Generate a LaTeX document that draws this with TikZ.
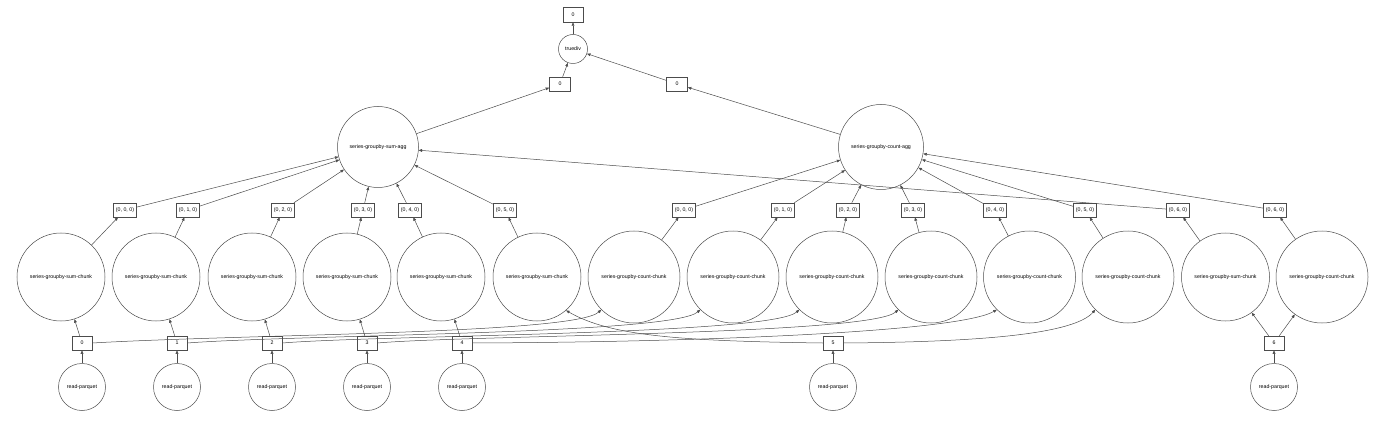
\documentclass[tikz,border=0pt]{standalone}
\usepackage{fontspec}
\setmainfont{Liberation Sans}
\usetikzlibrary{arrows.meta}
\begin{document}
\begin{tikzpicture}[x=1pt,y=-1pt,
  every node/.style={font=\fontsize{5.25}{6}\selectfont, inner sep=0pt, draw=black!70, line width=0.5pt},
  tbox/.style={rectangle, minimum width=23pt, minimum height=14pt},
  ibox/.style={rectangle, minimum width=20pt, minimum height=14pt},
  rp/.style={circle, minimum size=47pt},
  sch/.style={circle, minimum size=88pt},
  cch/.style={circle, minimum size=92pt},
  edge/.style={draw=black!70, line width=0.5pt, -{Triangle[length=3.5pt,width=2.8pt]}}
]
\useasboundingbox (0,0) rectangle (1400,422);
% top
\node[ibox, minimum height=15pt] (top) at (573,14.5) {0};
\node[circle, minimum size=29pt] (td) at (573,49) {truediv};
\node[ibox, minimum width=21pt] (s0) at (560,84) {0};
\node[ibox, minimum width=21pt] (c0) at (677,84) {0};
\node[circle, minimum size=81pt] (sagg) at (378,147) {series-groupby-sum-agg};
\node[circle, minimum size=85pt] (cagg) at (881,147) {series-groupby-count-agg};
% tuple boxes
\foreach \n/\x/\l in {ts0/125/0, ts1/188/1, ts2/283/2, ts3/363/3, ts4/410/4, ts5/505/5, ts6/1178/6,
                      tc0/684/0, tc1/783/1, tc2/848/2, tc3/913/3, tc4/995/4, tc5/1085/5, tc6/1275/6}
  \node[tbox] (\n) at (\x,210) {(0, \l, 0)};
% chunks
\foreach \n/\x in {sc0/61, sc1/156, sc2/252, sc3/347, sc4/441, sc5/537, sc6/1225.5}
  \node[sch] (\n) at (\x,277) {series-groupby-sum-chunk};
\foreach \n/\x in {cc0/634, cc1/733, cc2/832, cc3/931, cc4/1029.5, cc5/1128, cc6/1322}
  \node[cch] (\n) at (\x,277) {series-groupby-count-chunk};
% index boxes and read-parquet
\foreach \k/\x in {0/82, 1/177, 2/272, 3/367, 4/462, 5/833, 6/1274}{
  \node[ibox] (i\k) at (\x,343) {\k};
  \node[rp] (r\k) at (\x,387) {read-parquet};
  \draw[edge] (r\k) -- (i\k);
}
% straight edges
\foreach \a/\b in {i0/sc0, i1/sc1, i2/sc2, i3/sc3, i4/sc4, i6/sc6, i6/cc6,
                   sc0/ts0, sc1/ts1, sc2/ts2, sc3/ts3, sc4/ts4, sc5/ts5, sc6/ts6,
                   cc0/tc0, cc1/tc1, cc2/tc2, cc3/tc3, cc4/tc4, cc5/tc5, cc6/tc6,
                   ts0/sagg, ts1/sagg, ts2/sagg, ts3/sagg, ts4/sagg, ts5/sagg, ts6/sagg,
                   tc0/cagg, tc1/cagg, tc2/cagg, tc3/cagg, tc4/cagg, tc5/cagg, tc6/cagg,
                   sagg/s0, cagg/c0, s0/td, c0/td, td/top}
  \draw[edge] (\a) -- (\b);
% curved edges
\draw[edge] (i0.east) .. controls (250,334) and (575,334) .. (cc0.-135);
\draw[edge] (i1.east) .. controls (300,334.5) and (672,334.5) .. (cc1.-135);
\draw[edge] (i2.east) .. controls (380,335) and (771,335) .. (cc2.-135);
\draw[edge] (i3.east) .. controls (470,335) and (870,335) .. (cc3.-135);
\draw[edge] (i4.east) .. controls (720,342) and (960,331) .. (cc4.-135);
\draw[edge] (i5.west) .. controls (680,341) and (610,336) .. (sc5.-49);
\draw[edge] (i5.east) .. controls (990,342) and (1075,333) .. (cc5.-135);
\end{tikzpicture}
\end{document}
